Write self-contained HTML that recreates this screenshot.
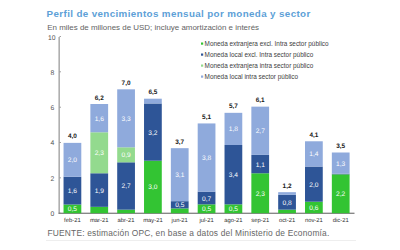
<!DOCTYPE html>
<html><head><meta charset="utf-8"><style>
html,body{margin:0;padding:0;width:400px;height:250px;overflow:hidden;background:#fff;font-family:"Liberation Sans",sans-serif}
.t{position:absolute;white-space:nowrap;line-height:1}
#title{left:46.6px;top:9.0px;font-size:9.8px;letter-spacing:0.37px;font-weight:bold;color:#5d9fd7}
#sub{left:47.3px;top:23.5px;font-size:7.95px;color:#636363}
#foot{left:47.5px;top:228.8px;font-size:8.4px;letter-spacing:0.2px;color:#666666}
.lg{position:absolute;left:204.6px;font-size:6.4px;color:#404040;white-space:nowrap;line-height:1}
.mk{position:absolute;left:201.3px;width:2.3px;height:2.3px}
svg{position:absolute;left:0;top:0}
svg text{font-family:"Liberation Sans",sans-serif;text-rendering:geometricPrecision}
.sl{font-size:6.6px;fill:#fff;text-anchor:middle}
.tot{font-size:6.4px;font-weight:bold;fill:#1a1a1a;text-anchor:middle}
.xl{font-size:5.85px;fill:#303030;text-anchor:middle}
.yl{font-size:6.8px;fill:#555555;text-anchor:middle}
#hr{position:absolute;left:46px;top:239.5px;width:310px;height:1px;background:#eeeeee}
</style></head><body>
<div class="t" id="title">Perfil de vencimientos mensual por moneda y sector</div>
<div class="t" id="sub">En miles de millones de USD; incluye amortización e interés</div>
<div class="lg" id="l1" style="top:40.6px">Moneda extranjera excl. Intra sector público</div>
<div class="lg" id="l2" style="top:51.6px">Moneda local excl. Intra sector público</div>
<div class="lg" id="l3" style="top:62.6px">Moneda extranjera intra sector público</div>
<div class="lg" id="l4" style="top:73.6px">Moneda local intra sector público</div>
<svg width="400" height="250" viewBox="0 0 400 250">
<rect x="58.5" y="37" width="1.3" height="176.80" fill="#9c9c9c"/>
<rect x="58.6" y="212.70" width="295.90" height="1.1" fill="#6a6a6a"/>
<rect x="59.5" y="36.10" width="1.5" height="0.8" fill="#8a8a8a"/>
<rect x="59.5" y="71.44" width="1.5" height="0.8" fill="#8a8a8a"/>
<rect x="59.5" y="106.78" width="1.5" height="0.8" fill="#8a8a8a"/>
<rect x="59.5" y="142.12" width="1.5" height="0.8" fill="#8a8a8a"/>
<rect x="59.5" y="177.46" width="1.5" height="0.8" fill="#8a8a8a"/>
<rect x="59.5" y="212.80" width="1.5" height="0.8" fill="#8a8a8a"/>
<rect x="63.54" y="204.54" width="17.75" height="8.66" fill="#33c433"/>
<text x="72.41" y="211.37" class="sl">0,5</text>
<rect x="63.54" y="176.80" width="17.75" height="27.74" fill="#2e5597"/>
<text x="72.41" y="193.17" class="sl">1,6</text>
<rect x="63.54" y="142.87" width="17.75" height="33.93" fill="#8faadc"/>
<text x="72.41" y="162.34" class="sl">2,0</text>
<text x="72.41" y="138.37" class="tot">4,0</text>
<text x="72.41" y="222.00" class="xl">feb-21</text>
<rect x="90.37" y="206.84" width="17.75" height="6.36" fill="#33c433"/>
<rect x="90.37" y="173.27" width="17.75" height="33.57" fill="#2e5597"/>
<text x="99.25" y="192.55" class="sl">1,9</text>
<rect x="90.37" y="132.27" width="17.75" height="40.99" fill="#93da8e"/>
<text x="99.25" y="155.27" class="sl">2,3</text>
<rect x="90.37" y="104.00" width="17.75" height="28.27" fill="#8faadc"/>
<text x="99.25" y="120.64" class="sl">1,6</text>
<text x="99.25" y="99.50" class="tot">6,2</text>
<text x="99.25" y="222.00" class="xl">mar-21</text>
<rect x="117.20" y="209.67" width="17.75" height="3.53" fill="#33c433"/>
<rect x="117.20" y="162.31" width="17.75" height="47.36" fill="#2e5597"/>
<text x="126.07" y="188.49" class="sl">2,7</text>
<rect x="117.20" y="147.29" width="17.75" height="15.02" fill="#93da8e"/>
<text x="126.07" y="157.30" class="sl">0,9</text>
<rect x="117.20" y="89.33" width="17.75" height="57.96" fill="#8faadc"/>
<text x="126.07" y="120.81" class="sl">3,3</text>
<text x="126.07" y="84.83" class="tot">7,0</text>
<text x="126.07" y="222.00" class="xl">abr-21</text>
<rect x="144.03" y="160.72" width="17.75" height="52.48" fill="#33c433"/>
<text x="152.91" y="189.46" class="sl">3,0</text>
<rect x="144.03" y="103.47" width="17.75" height="57.25" fill="#2e5597"/>
<text x="152.91" y="134.59" class="sl">3,2</text>
<rect x="144.03" y="98.70" width="17.75" height="4.77" fill="#8faadc"/>
<text x="152.91" y="94.20" class="tot">6,5</text>
<text x="152.91" y="222.00" class="xl">may-21</text>
<rect x="170.86" y="208.43" width="17.75" height="4.77" fill="#33c433"/>
<rect x="170.86" y="201.18" width="17.75" height="7.24" fill="#2e5597"/>
<text x="179.73" y="207.31" class="sl">0,5</text>
<rect x="170.86" y="148.17" width="17.75" height="53.01" fill="#8faadc"/>
<text x="179.73" y="177.18" class="sl">3,1</text>
<text x="179.73" y="143.67" class="tot">3,7</text>
<text x="179.73" y="222.00" class="xl">jun-21</text>
<rect x="197.69" y="204.36" width="17.75" height="8.84" fill="#33c433"/>
<text x="206.56" y="211.28" class="sl">0,5</text>
<rect x="197.69" y="191.64" width="17.75" height="12.72" fill="#2e5597"/>
<text x="206.56" y="200.50" class="sl">0,7</text>
<rect x="197.69" y="123.44" width="17.75" height="68.21" fill="#8faadc"/>
<text x="206.56" y="160.04" class="sl">3,8</text>
<text x="206.56" y="118.94" class="tot">5,1</text>
<text x="206.56" y="222.00" class="xl">jul-21</text>
<rect x="224.52" y="204.36" width="17.75" height="8.84" fill="#33c433"/>
<text x="233.39" y="211.28" class="sl">0,5</text>
<rect x="224.52" y="144.99" width="17.75" height="59.37" fill="#2e5597"/>
<text x="233.39" y="177.18" class="sl">3,4</text>
<rect x="224.52" y="112.83" width="17.75" height="32.16" fill="#8faadc"/>
<text x="233.39" y="131.41" class="sl">1,8</text>
<text x="233.39" y="108.33" class="tot">5,7</text>
<text x="233.39" y="222.00" class="xl">ago-21</text>
<rect x="251.35" y="173.27" width="17.75" height="39.93" fill="#33c433"/>
<text x="260.23" y="195.73" class="sl">2,3</text>
<rect x="251.35" y="154.89" width="17.75" height="18.38" fill="#2e5597"/>
<text x="260.23" y="166.58" class="sl">1,1</text>
<rect x="251.35" y="106.65" width="17.75" height="48.24" fill="#8faadc"/>
<text x="260.23" y="133.27" class="sl">2,7</text>
<text x="260.23" y="102.15" class="tot">6,1</text>
<text x="260.23" y="222.00" class="xl">sep-21</text>
<rect x="278.18" y="209.67" width="17.75" height="3.53" fill="#33c433"/>
<rect x="278.18" y="194.82" width="17.75" height="14.84" fill="#2e5597"/>
<text x="287.06" y="204.74" class="sl">0,8</text>
<rect x="278.18" y="192.17" width="17.75" height="2.65" fill="#8faadc"/>
<text x="287.06" y="187.67" class="tot">1,2</text>
<text x="287.06" y="222.00" class="xl">oct-21</text>
<rect x="305.01" y="201.71" width="17.75" height="11.49" fill="#33c433"/>
<text x="313.88" y="209.96" class="sl">0,6</text>
<rect x="305.01" y="166.55" width="17.75" height="35.16" fill="#2e5597"/>
<text x="313.88" y="186.63" class="sl">2,0</text>
<rect x="305.01" y="141.28" width="17.75" height="25.27" fill="#8faadc"/>
<text x="313.88" y="156.42" class="sl">1,4</text>
<text x="313.88" y="136.78" class="tot">4,1</text>
<text x="313.88" y="222.00" class="xl">nov-21</text>
<rect x="331.84" y="174.33" width="17.75" height="38.87" fill="#33c433"/>
<text x="340.71" y="196.26" class="sl">2,2</text>
<rect x="331.84" y="173.71" width="17.75" height="0.62" fill="#2e5597"/>
<rect x="331.84" y="152.50" width="17.75" height="21.20" fill="#8faadc"/>
<text x="340.71" y="165.61" class="sl">1,3</text>
<text x="340.71" y="148.00" class="tot">3,5</text>
<text x="340.71" y="222.00" class="xl">dic-21</text>
<rect x="201.0" y="42.50" width="2.2" height="2.2" fill="#33c433"/>
<rect x="201.0" y="53.50" width="2.2" height="2.2" fill="#2e5597"/>
<rect x="201.0" y="64.50" width="2.2" height="2.2" fill="#93da8e"/>
<rect x="201.0" y="75.50" width="2.2" height="2.2" fill="#8faadc"/>
<text x="52.40" y="216.00" class="yl">0</text>
<text x="52.40" y="180.66" class="yl">2</text>
<text x="52.40" y="145.32" class="yl">4</text>
<text x="52.40" y="109.98" class="yl">6</text>
<text x="52.40" y="75.14" class="yl">8</text>
<text x="51.70" y="40.30" class="yl">10</text>
</svg>
<div class="t" id="foot">FUENTE: estimación OPC, en base a datos del Ministerio de Economía.</div>
<div id="hr"></div>
</body></html>
